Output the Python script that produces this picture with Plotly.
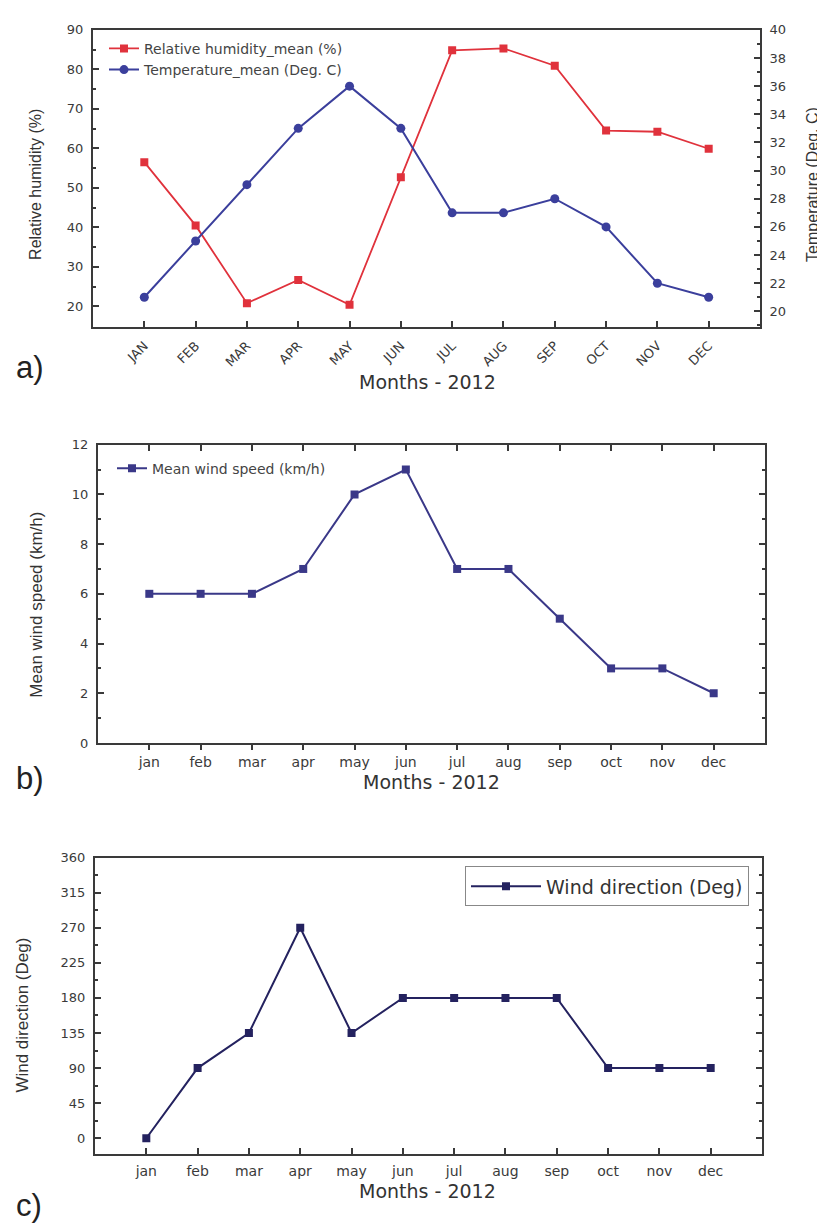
import plotly.graph_objects as go

# ---------------- data ----------------
months_upper = ["JAN", "FEB", "MAR", "APR", "MAY", "JUN", "JUL", "AUG", "SEP", "OCT", "NOV", "DEC"]
months_lower = ["jan", "feb", "mar", "apr", "may", "jun", "jul", "aug", "sep", "oct", "nov", "dec"]
humidity_mean = [56.5, 40.5, 20.8, 26.7, 20.4, 52.7, 84.8, 85.3, 80.9, 64.5, 64.2, 59.9]
temperature_mean = [21, 25, 29, 33, 36, 33, 27, 27, 28, 26, 22, 21]
wind_speed = [6, 6, 6, 7, 10, 11, 7, 7, 5, 3, 3, 2]
wind_direction = [0, 90, 135, 270, 135, 180, 180, 180, 180, 90, 90, 90]

# ---------------- style ----------------
W, H = 825, 1224
RED = "#e0323c"
BLUE = "#3b3f9c"
NAVY_B = "#3a3888"
NAVY_C = "#24225f"
AX = "#3a3a3a"
WIDE = "DejaVu Sans, Verdana, sans-serif"
TICKFONT = dict(family=WIDE, size=13, color="#3a3a3a")
NARROW = "Liberation Sans, Arial, sans-serif"


def px(x):
    return x / W


def py(y):
    return 1 - y / H


fig = go.Figure()

# panel a
fig.add_trace(go.Scatter(
    x=months_upper, y=humidity_mean, name="Relative humidity_mean (%)",
    mode="lines+markers", line=dict(color=RED, width=1.8),
    marker=dict(symbol="square", size=8, color=RED),
    xaxis="x", yaxis="y", legend="legend"))
fig.add_trace(go.Scatter(
    x=months_upper, y=temperature_mean, name="Temperature_mean (Deg. C)",
    mode="lines+markers", line=dict(color=BLUE, width=2),
    marker=dict(symbol="circle", size=9, color=BLUE),
    xaxis="x", yaxis="y2", legend="legend"))

# panel b
fig.add_trace(go.Scatter(
    x=months_lower, y=wind_speed, name="Mean wind speed (km/h)",
    mode="lines+markers", line=dict(color=NAVY_B, width=2),
    marker=dict(symbol="square", size=8, color=NAVY_B),
    xaxis="x2", yaxis="y3", legend="legend2"))
# helper (empty) trace for the top tick axis of panel b
fig.add_trace(go.Scatter(x=[], y=[], xaxis="x4", yaxis="y3", showlegend=False))

# panel c
fig.add_trace(go.Scatter(
    x=months_lower, y=wind_direction, name="Wind direction (Deg)",
    mode="lines+markers", line=dict(color=NAVY_C, width=2),
    marker=dict(symbol="square", size=8, color=NAVY_C),
    xaxis="x3", yaxis="y4", legend="legend3"))

common_line = dict(showline=True, linecolor=AX, linewidth=2, showgrid=False, zeroline=False,
                   tickcolor=AX, tickfont=TICKFONT)

fig.update_layout(
    width=W, height=H, margin=dict(l=0, r=0, t=0, b=0),
    paper_bgcolor="white", plot_bgcolor="white", showlegend=True,
    # ---- panel a ----
    xaxis=dict(domain=[px(85), px(752)], anchor="y", type="category", range=[-1, 12],
               ticks="inside", ticklen=6, tickwidth=1.5, tickangle=-45, mirror=True,
               ticklabelstandoff=4, **common_line),
    yaxis=dict(domain=[py(316), py(15)], anchor="x", range=[14.75, 90], dtick=10, tick0=0,
               ticks="inside", ticklen=6, tickwidth=1.5, side="left", ticklabelstandoff=5,
               minor=dict(ticks="inside", ticklen=3, dtick=5, tickcolor=AX),
               **common_line),
    yaxis2=dict(overlaying="y", anchor="x", side="right", range=[18.88, 40], dtick=2, tick0=0,
                ticks="inside", ticklen=6, tickwidth=1.5, ticklabelstandoff=5,
                minor=dict(ticks="inside", ticklen=3, dtick=1, tickcolor=AX),
                **common_line),
    # ---- panel b ----
    xaxis2=dict(domain=[px(90), px(757)], anchor="y3", type="category", range=[-1, 12],
                ticks="outside", ticklen=5, tickwidth=1.5, mirror=True,
                tickfont=dict(family=WIDE, size=14, color="#3a3a3a"),
                **{k: v for k, v in common_line.items() if k != "tickfont"}),
    xaxis4=dict(overlaying="x2", anchor="y3", side="top", range=[-1, 12],
                tickvals=list(range(len(months_lower))), showticklabels=False,
                ticks="inside", ticklen=6, tickwidth=1.5,
                **{k: v for k, v in common_line.items() if k != "tickfont"}),
    yaxis3=dict(domain=[py(737), py(435)], anchor="x2", range=[0, 12], dtick=2,
                ticks="inside", ticklen=6, tickwidth=1.5, mirror="ticks", ticklabelstandoff=5,
                minor=dict(ticks="inside", ticklen=3, dtick=1, tickcolor=AX),
                **common_line),
    # ---- panel c ----
    xaxis3=dict(domain=[px(87), px(754)], anchor="y4", type="category", range=[-1, 12],
                ticks="inside", ticklen=6, tickwidth=1.5, mirror=True, ticklabelstandoff=3,
                tickfont=dict(family=WIDE, size=14, color="#3a3a3a"),
                **{k: v for k, v in common_line.items() if k != "tickfont"}),
    yaxis4=dict(domain=[py(1153), py(853)], anchor="x3", range=[-20, 360], dtick=45, tick0=0,
                ticks="inside", ticklen=6, tickwidth=1.5, mirror="ticks", ticklabelstandoff=5,
                minor=dict(ticks="inside", ticklen=3, dtick=22.5, tickcolor=AX),
                **common_line),
    # ---- legends ----
    legend=dict(x=px(96), y=py(18), xanchor="left", yanchor="top", bgcolor="rgba(0,0,0,0)",
                font=dict(family=WIDE, size=14, color="#444"),
                tracegroupgap=0, itemwidth=30),
    legend2=dict(x=px(104), y=py(443), xanchor="left", yanchor="top", bgcolor="rgba(0,0,0,0)",
                 font=dict(family=WIDE, size=14, color="#444"),
                 itemwidth=30),
    legend3=dict(x=px(741), y=py(862), xanchor="right", yanchor="top", bgcolor="white",
                 bordercolor="#888888", borderwidth=1,
                 font=dict(family=WIDE, size=19, color="#333"),
                 itemwidth=70),
)

ann = []
# panel labels
for txt, yy in [("a)", 357), ("b)", 773), ("c)", 1205)]:
    ann.append(dict(text=txt, x=px(6), y=py(yy), xref="paper", yref="paper", xanchor="left",
                    yanchor="middle", showarrow=False,
                    font=dict(family="Liberation Sans, Arial, sans-serif", size=31, color="#222")))
# x titles
for xx, yy in [(419, 372), (423, 777), (420, 1191)]:
    ann.append(dict(text="Months - 2012", x=px(xx), y=py(yy), xref="paper", yref="paper",
                    xanchor="center", yanchor="middle", showarrow=False,
                    font=dict(family=WIDE, size=19, color="#333")))
# y titles
for txt, xx, yy, sz in [("Relative humidity (%)", 28, 172, 16),
                        ("Temperature (Deg. C)", 805, 172, 16),
                        ("Mean wind speed (km/h)", 29, 597, 17),
                        ("Wind direction (Deg)", 15, 1013, 17)]:
    ann.append(dict(text=txt, x=px(xx), y=py(yy), xref="paper", yref="paper", textangle=-90,
                    xanchor="center", yanchor="middle", showarrow=False,
                    font=dict(family=NARROW, size=sz, color="#333")))
fig.update_layout(annotations=ann)

fig.write_html("out.html")
